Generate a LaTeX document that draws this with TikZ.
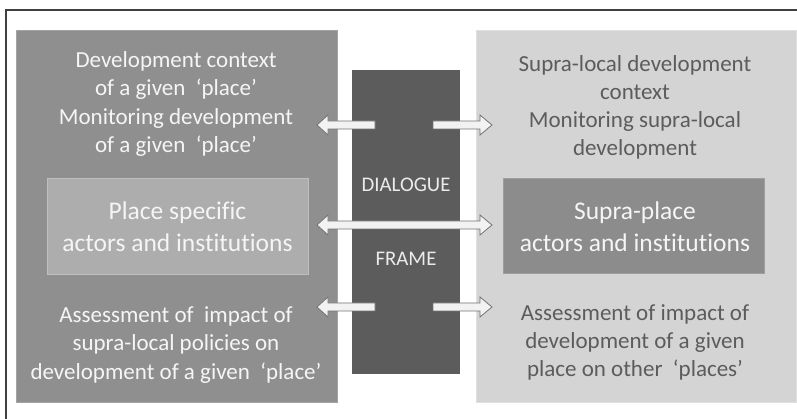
\documentclass[tikz,border=0pt]{standalone}
\usepackage{fontspec}
\setmainfont{Carlito}[Ligatures=NoCommon]
\begin{document}
\begin{tikzpicture}[x=1pt,y=-1pt,
  txt/.style={align=center,font=\fontsize{23}{28.2}\selectfont,inner sep=0pt},
  bigtxt/.style={align=center,font=\fontsize{25.5}{32}\selectfont,inner sep=0pt},
  midtxt/.style={font=\fontsize{20.8}{24}\selectfont,inner sep=0pt,text=black!8},
  blockarrow/.style={fill=black!5,draw=black!55,line width=0.8pt,line join=miter}
]
\useasboundingbox (0,0) rectangle (797,419);
\fill[white] (0,0) rectangle (797,419);
\draw[black!75,line width=1.4pt] (6,419) -- (6,10) -- (797,10);

% boxes
\node[fill=black!44,draw=black!36,minimum width=321pt,minimum height=372pt,inner sep=0pt] (L) at (176.5,216) {};
\node[fill=black!17,draw=black!12,minimum width=320pt,minimum height=372pt,inner sep=0pt] (R) at (636,216) {};
\node[fill=black!64,minimum width=108pt,minimum height=304pt,inner sep=0pt] (C) at (406,222) {};
\node[fill=black!32,draw=black!25,minimum width=261pt,minimum height=96pt,inner sep=0pt] (LI) at (177.5,226) {};
\node[fill=black!45,draw=black!38,minimum width=261pt,minimum height=95pt,inner sep=0pt] (RI) at (633.5,225.5) {};

% texts
\node[txt,text=black!4] (lt) at (176,104) {Development context\\of a given~~‘place’\\Monitoring development\\of a given~~‘place’};
\node[txt,text=black!64] (rt) at (635,107.5) {Supra-local development\\context\\Monitoring supra-local\\development};
\node[bigtxt,text=black!4] (lit) at (177.5,227) {Place specific\\actors and institutions};
\node[bigtxt,text=black!4] (rit) at (635,227) {Supra-place\\actors and institutions};
\node[txt,text=black!4] (lb) at (176,345) {Assessment of~~impact of\\supra-local policies on\\development of a given~~‘place’};
\node[txt,text=black!64] (rb) at (635,342.5) {Assessment of impact of\\development of a given\\place on other~~‘places’};
\node[midtxt] (dia) at (406,185) {DIALOGUE};
\node[midtxt] (fra) at (406,259) {FRAME};

% arrows
\draw[blockarrow] (317,125) -- (328,115) -- (328,121) -- (375,121) -- (375,129) -- (328,129) -- (328,135) -- cycle;
\draw[blockarrow] (433,121) -- (480,121) -- (480,115) -- (492,125) -- (480,135) -- (480,129) -- (433,129) -- cycle;
\draw[blockarrow] (317,225) -- (328,215) -- (328,221) -- (480,221) -- (480,215) -- (492,225) -- (480,235) -- (480,229) -- (328,229) -- (328,235) -- cycle;
\draw[blockarrow] (317,307) -- (328,297) -- (328,303) -- (375,303) -- (375,311) -- (328,311) -- (328,317) -- cycle;
\draw[blockarrow] (433,303) -- (480,303) -- (480,297) -- (492,307) -- (480,317) -- (480,311) -- (433,311) -- cycle;
\end{tikzpicture}
\end{document}
